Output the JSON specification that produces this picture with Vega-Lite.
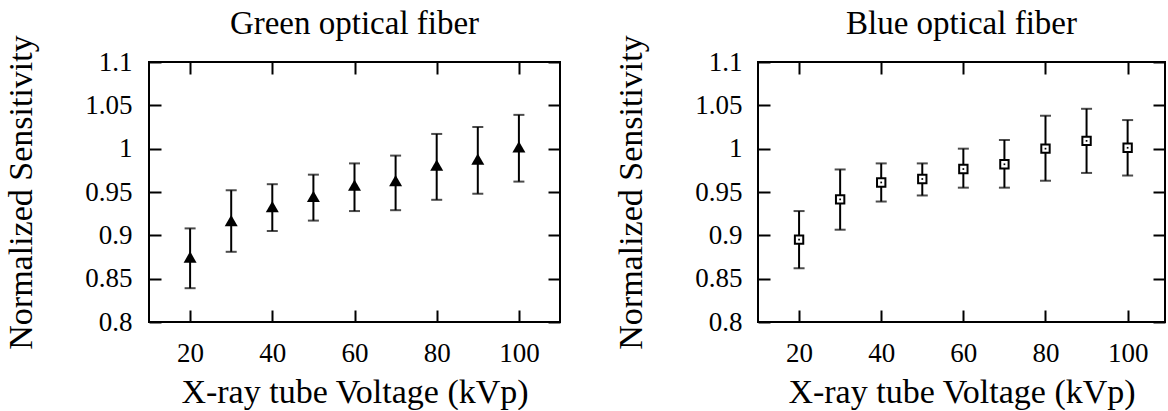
{
  "$schema": "https://vega.github.io/schema/vega-lite/v6.json",
  "padding": {"left": 3, "top": 6, "right": 0, "bottom": 0},
  "background": "white",
  "datasets": {
    "green": [
      {"kVp": 20, "v": 0.875, "lo": 0.839, "hi": 0.908},
      {"kVp": 30, "v": 0.917, "lo": 0.881, "hi": 0.952},
      {"kVp": 40, "v": 0.933, "lo": 0.905, "hi": 0.959},
      {"kVp": 50, "v": 0.945, "lo": 0.917, "hi": 0.970},
      {"kVp": 60, "v": 0.958, "lo": 0.928, "hi": 0.983},
      {"kVp": 70, "v": 0.963, "lo": 0.929, "hi": 0.992},
      {"kVp": 80, "v": 0.981, "lo": 0.941, "hi": 1.017},
      {"kVp": 90, "v": 0.988, "lo": 0.948, "hi": 1.025},
      {"kVp": 100, "v": 1.002, "lo": 0.962, "hi": 1.039}
    ],
    "blue": [
      {"kVp": 20, "v": 0.895, "lo": 0.862, "hi": 0.928},
      {"kVp": 30, "v": 0.9415, "lo": 0.9065, "hi": 0.976},
      {"kVp": 40, "v": 0.961, "lo": 0.939, "hi": 0.983},
      {"kVp": 50, "v": 0.965, "lo": 0.946, "hi": 0.983},
      {"kVp": 60, "v": 0.9765, "lo": 0.955, "hi": 1.0},
      {"kVp": 70, "v": 0.982, "lo": 0.955, "hi": 1.010},
      {"kVp": 80, "v": 1.000, "lo": 0.963, "hi": 1.038},
      {"kVp": 90, "v": 1.009, "lo": 0.972, "hi": 1.046},
      {"kVp": 100, "v": 1.001, "lo": 0.969, "hi": 1.033}
    ]
  },
  "spacing": 51,
  "hconcat": [
    {
      "title": {"text": "Green optical fiber"},
      "width": 411,
      "height": 260,
      "data": {"name": "green"},
      "layer": [
        {
          "mark": {"type": "rule", "strokeWidth": 2, "color": "black"},
          "encoding": {
            "x": {"field": "kVp", "type": "quantitative", "scale": {"domain": [10, 110], "nice": false, "zero": false},
                  "axis": {"orient": "bottom", "values": [20, 40, 60, 80, 100], "labelPadding": 30, "title": "X-ray tube Voltage (kVp)", "titlePadding": 9, "labelFont": "Liberation Serif", "titleFont": "Liberation Serif"}},
            "y": {"field": "lo", "type": "quantitative", "scale": {"domain": [0.8, 1.1], "nice": false, "zero": false},
                  "axis": {"orient": "left", "values": [0.8, 0.85, 0.9, 0.95, 1, 1.05, 1.1], "format": "~g", "labelPadding": 29, "title": "Normalized Sensitivity", "titlePadding": 46, "labelFont": "Liberation Serif", "titleFont": "Liberation Serif"}},
            "y2": {"field": "hi"}
          }
        },
        {
          "mark": {"type": "tick", "orient": "horizontal", "size": 11, "thickness": 2, "color": "black"},
          "encoding": {
            "x": {"field": "kVp", "type": "quantitative", "axis": null},
            "y": {"field": "lo", "type": "quantitative", "axis": null}
          }
        },
        {
          "mark": {"type": "tick", "orient": "horizontal", "size": 11, "thickness": 2, "color": "black"},
          "encoding": {
            "x": {"field": "kVp", "type": "quantitative", "axis": null},
            "y": {"field": "hi", "type": "quantitative", "axis": null}
          }
        },
        {
          "mark": {"type": "point", "shape": "triangle-up", "filled": true, "size": 169, "color": "black", "opacity": 1},
          "encoding": {
            "x": {"field": "kVp", "type": "quantitative", "axis": null},
            "y": {"field": "v", "type": "quantitative", "axis": null}
          }
        },
        {
          "mark": {"type": "point", "opacity": 0},
          "encoding": {
            "x": {"field": "kVp", "type": "quantitative", "axis": {"orient": "top", "values": [20, 40, 60, 80, 100], "labels": false, "title": null}},
            "y": {"field": "v", "type": "quantitative", "axis": {"orient": "right", "values": [0.8, 0.85, 0.9, 0.95, 1, 1.05, 1.1], "labels": false, "title": null}}
          }
        }
      ],
      "resolve": {"axis": {"x": "independent", "y": "independent"}}
    },
    {
      "title": {"text": "Blue optical fiber"},
      "width": 407,
      "height": 260,
      "data": {"name": "blue"},
      "layer": [
        {
          "mark": {"type": "rule", "strokeWidth": 2, "color": "black"},
          "encoding": {
            "x": {"field": "kVp", "type": "quantitative", "scale": {"domain": [10, 109.1], "nice": false, "zero": false},
                  "axis": {"orient": "bottom", "values": [20, 40, 60, 80, 100], "labelPadding": 30, "title": "X-ray tube Voltage (kVp)", "titlePadding": 9, "labelFont": "Liberation Serif", "titleFont": "Liberation Serif"}},
            "y": {"field": "lo", "type": "quantitative", "scale": {"domain": [0.8, 1.1], "nice": false, "zero": false},
                  "axis": {"orient": "left", "values": [0.8, 0.85, 0.9, 0.95, 1, 1.05, 1.1], "format": "~g", "labelPadding": 28, "title": "Normalized Sensitivity", "titlePadding": 46, "labelFont": "Liberation Serif", "titleFont": "Liberation Serif"}},
            "y2": {"field": "hi"}
          }
        },
        {
          "mark": {"type": "tick", "orient": "horizontal", "size": 11, "thickness": 2, "color": "black"},
          "encoding": {
            "x": {"field": "kVp", "type": "quantitative", "axis": null},
            "y": {"field": "lo", "type": "quantitative", "axis": null}
          }
        },
        {
          "mark": {"type": "tick", "orient": "horizontal", "size": 11, "thickness": 2, "color": "black"},
          "encoding": {
            "x": {"field": "kVp", "type": "quantitative", "axis": null},
            "y": {"field": "hi", "type": "quantitative", "axis": null}
          }
        },
        {
          "mark": {"type": "point", "shape": "square", "filled": true, "size": 70, "fill": "white", "stroke": "black", "strokeWidth": 2, "opacity": 1},
          "encoding": {
            "x": {"field": "kVp", "type": "quantitative", "axis": null},
            "y": {"field": "v", "type": "quantitative", "axis": null}
          }
        },
        {
          "mark": {"type": "point", "shape": "square", "filled": true, "size": 3, "color": "black", "opacity": 1},
          "encoding": {
            "x": {"field": "kVp", "type": "quantitative", "axis": null},
            "y": {"field": "v", "type": "quantitative", "axis": null}
          }
        },
        {
          "mark": {"type": "point", "opacity": 0},
          "encoding": {
            "x": {"field": "kVp", "type": "quantitative", "axis": {"orient": "top", "values": [20, 40, 60, 80, 100], "labels": false, "title": null}},
            "y": {"field": "v", "type": "quantitative", "axis": {"orient": "right", "values": [0.8, 0.85, 0.9, 0.95, 1, 1.05, 1.1], "labels": false, "title": null}}
          }
        }
      ],
      "resolve": {"axis": {"x": "independent", "y": "independent"}}
    }
  ],
  "config": {
    "font": "Liberation Serif",
    "view": {"stroke": "black", "strokeWidth": 2},
    "axis": {
      "grid": false,
      "domain": false,
      "tickColor": "black",
      "tickWidth": 2,
      "tickSize": -12,
      "labelColor": "black",
      "labelFont": "Liberation Serif",
      "labelFontSize": 27,
      "labelFlush": false,
      "labelOverlap": false,
      "titleColor": "black",
      "titleFont": "Liberation Serif",
      "titleFontSize": 34,
      "titleFontWeight": "normal"
    },
    "title": {"font": "Liberation Serif", "fontSize": 33, "fontWeight": "normal", "color": "black", "offset": -6}
  }
}
